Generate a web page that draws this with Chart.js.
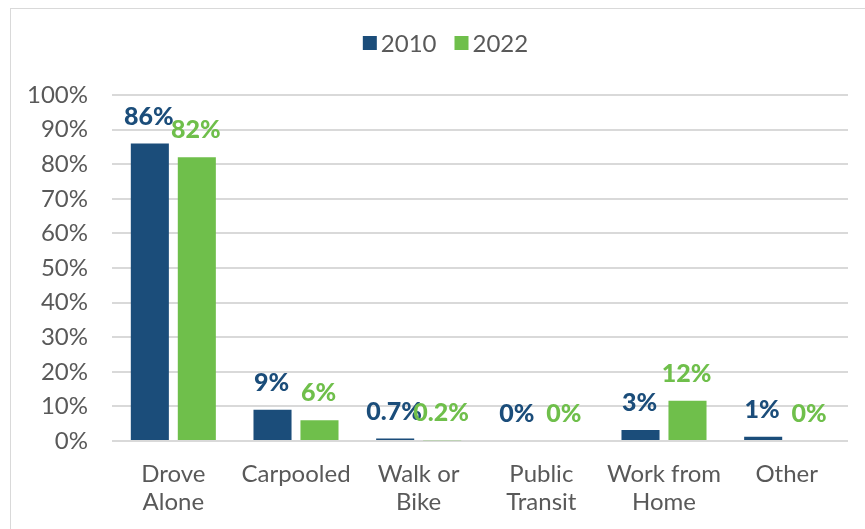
<!DOCTYPE html>
<html>
<head>
<meta charset="utf-8">
<script src="https://cdn.jsdelivr.net/npm/chart.js@4/dist/chart.umd.min.js"></script>
<style>
  html, body { margin: 0; padding: 0; background: #ffffff; overflow: hidden; }
  #frame { position: absolute; left: 10px; top: 8px; width: 880px; height: 540px; border: 1px solid #d9d9d9; box-sizing: border-box; }
  #c { position: absolute; left: 0; top: 0; }
</style>
</head>
<body>
<div id="frame"></div>
<canvas id="c" width="865" height="529"></canvas>
<script>
const categories = [["Drove", "Alone"], ["Carpooled"], ["Walk or", "Bike"], ["Public", "Transit"], ["Work from", "Home"], ["Other"]];
const seriesNames = ["2010", "2022"];
const values2010 = [86, 9, 0.7, 0, 3.2, 1.2];
const values2022 = [82, 6, 0.2, 0, 11.6, 0];
const yTicks = [0, 10, 20, 30, 40, 50, 60, 70, 80, 90, 100];
const colors = ["#1B4D7A", "#6FBF4B"];

const FONT = "Lato, 'Open Sans', sans-serif";
const TEXT = "#595959";

function fmt(v) {
  if (v > 0 && v < 1) return v.toFixed(1) + "%";
  return Math.round(v) + "%";
}

const dataLabels = {
  id: "dataLabels",
  afterDatasetsDraw(chart) {
    const ctx = chart.ctx;
    ctx.save();
    ctx.font = "900 25px " + FONT;
    ctx.textAlign = "center";
    ctx.textBaseline = "middle";
    chart.data.datasets.forEach((ds, i) => {
      const meta = chart.getDatasetMeta(i);
      meta.data.forEach((el, j) => {
        ctx.fillStyle = ds.backgroundColor;
        ctx.fillText(fmt(ds.data[j]), el.x - 1, el.y - 27);
      });
    });
    ctx.restore();
  }
};

const customLegend = {
  id: "customLegend",
  afterDraw(chart) {
    const ctx = chart.ctx;
    ctx.save();
    ctx.font = "24px " + FONT;
    ctx.textBaseline = "middle";
    ctx.textAlign = "left";
    const box = 14, gapBox = 4, gapItem = 18, cy = 43, cx = 445.5;
    const widths = chart.data.datasets.map(ds => box + gapBox + ctx.measureText(ds.label).width);
    const total = widths.reduce((a, b) => a + b, 0) + gapItem * (widths.length - 1);
    let x = cx - total / 2;
    chart.data.datasets.forEach((ds, i) => {
      ctx.fillStyle = ds.backgroundColor;
      ctx.fillRect(x, cy - box / 2, box, box);
      ctx.fillStyle = TEXT;
      ctx.fillText(ds.label, x + box + gapBox, cy + 1);
      x += widths[i] + gapItem;
    });
    ctx.restore();
  }
};

new Chart(document.getElementById("c"), {
  type: "bar",
  data: {
    labels: categories,
    datasets: [
      { label: seriesNames[0], data: values2010, backgroundColor: colors[0] },
      { label: seriesNames[1], data: values2022, backgroundColor: colors[1] }
    ]
  },
  options: {
    responsive: false,
    animation: false,
    devicePixelRatio: 1,
    layout: { padding: { left: 0, right: 17, top: 95, bottom: 0 } },
    categoryPercentage: 0.766,
    barPercentage: 0.81,
    plugins: {
      legend: { display: false },
      tooltip: { enabled: false }
    },
    scales: {
      x: {
        grid: { display: false },
        border: { display: false },
        ticks: {
          color: TEXT,
          font: { family: FONT, size: 24, lineHeight: 1.167 },
          padding: 11,
          maxRotation: 0,
          autoSkip: false
        },
        afterFit(scale) { scale.height = 88; }
      },
      y: {
        min: 0,
        max: 100,
        afterBuildTicks(scale) { scale.ticks = yTicks.map(v => ({ value: v })); },
        grid: { color: "#d9d9d9", lineWidth: 2, drawTicks: false },
        border: { display: false },
        ticks: {
          color: TEXT,
          font: { family: FONT, size: 24 },
          padding: 24,
          callback: v => v + "%"
        },
        afterFit(scale) { scale.width = 112; }
      }
    }
  },
  plugins: [dataLabels, customLegend]
});
</script>
</body>
</html>
